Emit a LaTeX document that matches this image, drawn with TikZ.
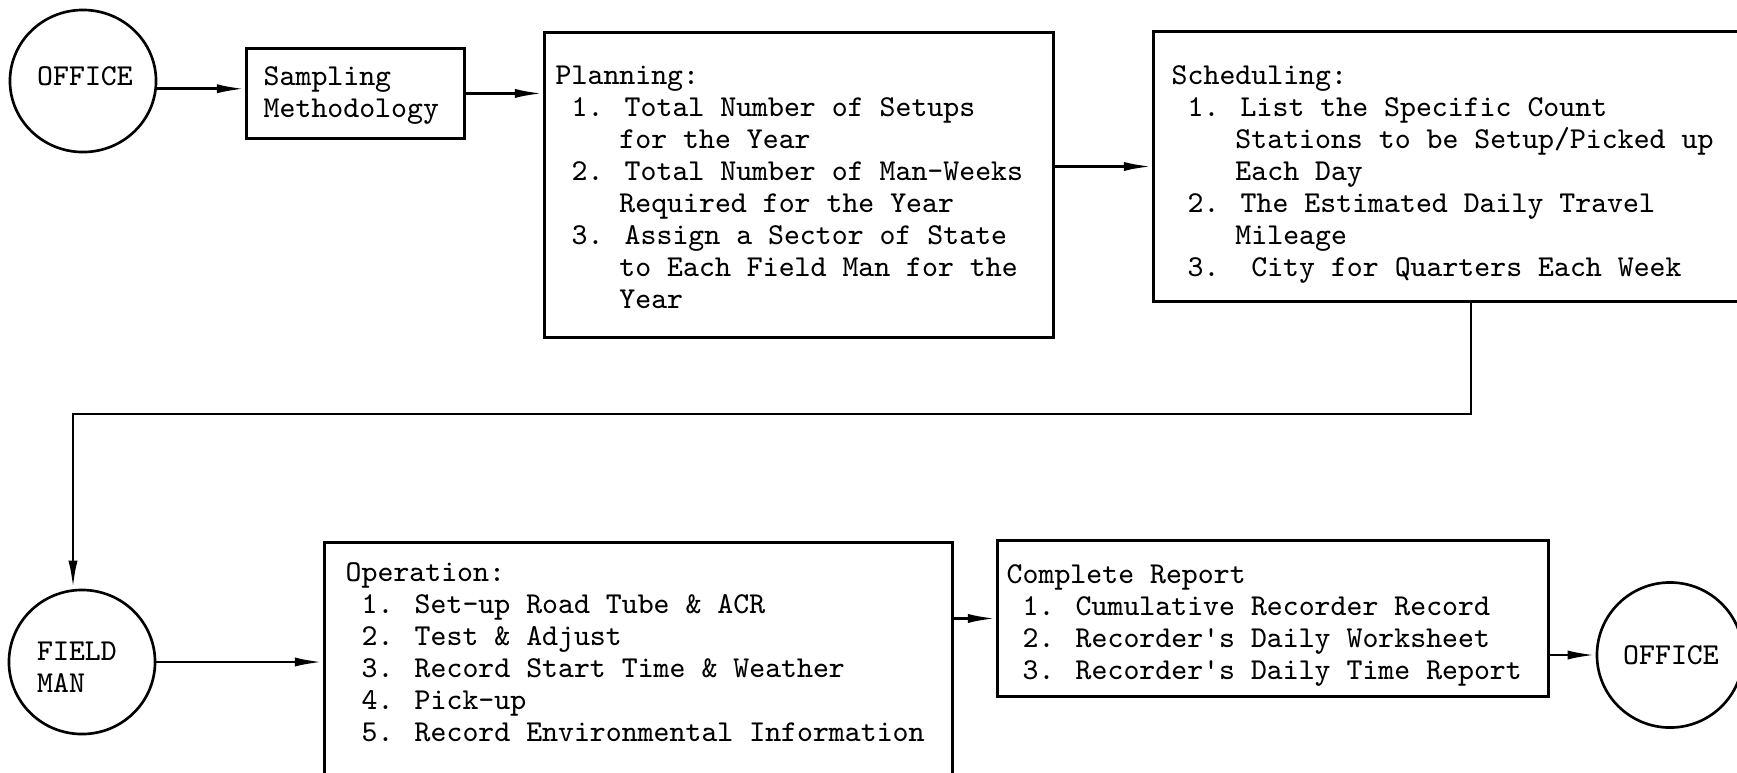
\documentclass[tikz,border=0pt]{standalone}
\usetikzlibrary{arrows.meta,shapes.geometric}
\newcommand\ind[1]{\hspace*{#1\fontcharwd\font`\x}}
\tikzset{
  tfont/.style={font=\fontsize{8.63}{9.1}\selectfont\ttfamily},
  box/.style={draw, line width=0.8pt, rectangle, anchor=north west, inner sep=0pt},
  txt/.style={tfont, anchor=north west, inner sep=0pt, align=left},
  ctxt/.style={tfont, inner sep=0pt, align=left},
  oval/.style={draw, line width=0.75pt, ellipse, inner sep=0pt},
  conn/.style={line width=0.8pt, -{Latex[length=8pt,width=2.6pt]}}
}
\begin{document}
\begin{tikzpicture}[x=0.01cm,y=-0.01cm]
\useasboundingbox (0,0) rectangle (1737,772);
\clip (0,0) rectangle (1737,772);

% top row
\node[oval, minimum width=1.46cm, minimum height=1.42cm] (office1) at (83,81) {};
\node[ctxt] (office1text) at (85,76.5) {OFFICE};

\node[box, minimum width=2.18cm, minimum height=0.90cm] (samp) at (245,47) {};
\node[txt] (samptext) at (263,62) {\strut Sampling\\Methodology};

\node[box, minimum width=5.09cm, minimum height=3.05cm] (plan) at (543,31) {};
\node[txt] (plantext) at (555,61.5) {\strut Planning:\\
\ind{1}1. Total Number of Setups\\
\ind{4}for the Year\\
\ind{1}2. Total Number of Man-Weeks\\
\ind{4}Required for the Year\\
\ind{1}3. Assign a Sector of State\\
\ind{4}to Each Field Man for the\\
\ind{4}Year};

\node[box, minimum width=6.08cm, minimum height=2.70cm] (sched) at (1152,30) {};
\node[txt] (schedtext) at (1171,61.5) {\strut Scheduling:\\
\ind{1}1. List the Specific Count\\
\ind{4}Stations to be Setup/Picked up\\
\ind{4}Each Day\\
\ind{1}2. The Estimated Daily Travel\\
\ind{4}Mileage\\
\ind{1}3.\ind{2}City for Quarters Each Week};

% bottom row
\node[oval, minimum width=1.46cm, minimum height=1.44cm] (fm) at (82,662) {};
\node[ctxt] (fmtext) at (77,667.5) {FIELD\\MAN};

\node[box, minimum width=6.28cm, minimum height=2.59cm] (op) at (323,541) {};
\node[txt] (optext) at (345,558.6) {\strut Operation:\\
\ind{1}1. Set-up Road Tube \& ACR\\
\ind{1}2. Test \& Adjust\\
\ind{1}3. Record Start Time \& Weather\\
\ind{1}4. Pick-up\\
\ind{1}5. Record Environmental Information};

\node[box, minimum width=5.51cm, minimum height=1.56cm] (cr) at (996,539) {};
\node[txt] (crtext) at (1006,560.6) {\strut Complete Report\\
\ind{1}1. Cumulative Recorder Record\\
\ind{1}2. Recorder\textquotesingle s Daily Worksheet\\
\ind{1}3. Recorder\textquotesingle s Daily Time Report};

\node[oval, minimum width=1.46cm, minimum height=1.45cm] (office2) at (1670,655) {};
\node[ctxt] (office2text) at (1671,655) {OFFICE};

% connectors
\draw[conn] (office1.-6) -- (office1.-6 -| samp.west);
\draw[conn] (samp.east) -- (samp.east -| plan.west);
\draw[conn] (sched.west -| plan.east) -- (sched.west);
\coordinate (t1) at (1471,414);
\coordinate (t2) at (73,414);
\draw[conn] (sched.south -| t1) -- (t1) -- (t2) -- (t2 |- fm.north);
\draw[conn] (fm.east) -- (fm.east -| op.west);
\draw[conn] (cr.west -| op.east) -- (cr.west);
\draw[conn] (cr.east |- office2.west) -- (office2.west);
\end{tikzpicture}
\end{document}
